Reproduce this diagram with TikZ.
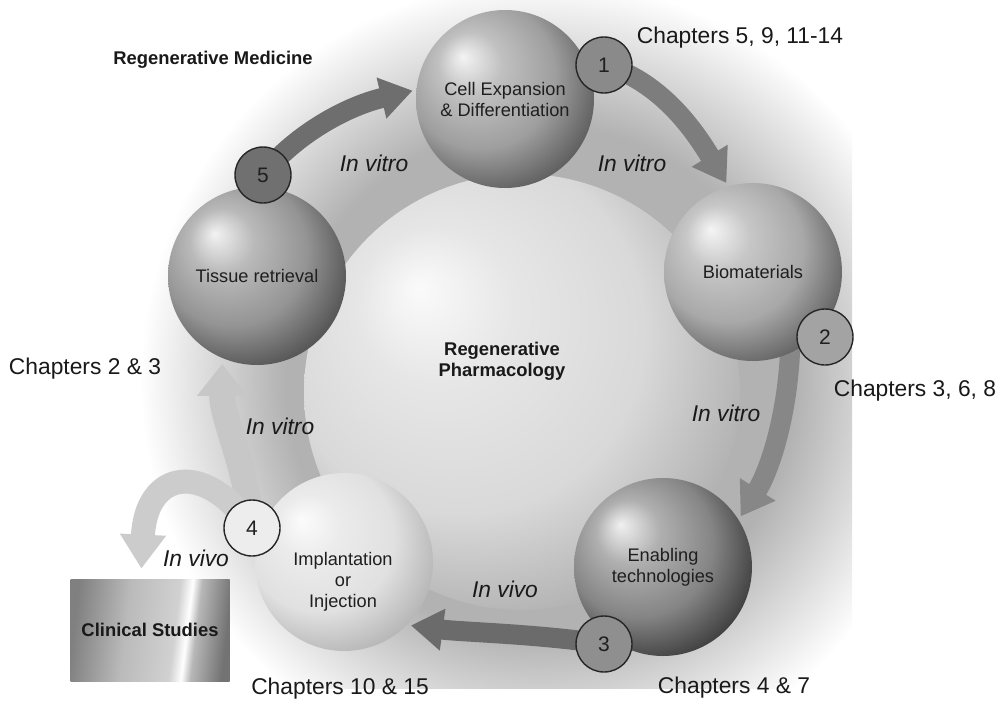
\documentclass[tikz,border=0pt]{standalone}
\usepackage{fontspec}
\setmainfont{Liberation Sans}
\usetikzlibrary{arrows.meta}

\pgfdeclarelayer{bg}
\pgfdeclarelayer{flowlayer}
\pgfsetlayers{bg,flowlayer,main}

\colorlet{ballbase}{gray}
\colorlet{ballrim}{black}
\pgfdeclareradialshading[ballbase,ballrim]{sphere}{\pgfpoint{-12bp}{12bp}}{%
  color(0bp)=(ballbase!12!white);
  color(9bp)=(ballbase!65!white);
  color(21bp)=(ballbase);
  color(31bp)=(ballrim);
  color(50bp)=(ballrim)}
\pgfdeclareradialshading{halo}{\pgfpointorigin}{%
  color(0bp)=(black!30);
  color(16bp)=(black!30);
  color(25bp)=(white);
  color(50bp)=(white)}
\pgfdeclarehorizontalshading{metal}{100bp}{%
  color(0bp)=(black!50);
  color(25bp)=(black!50);
  color(42bp)=(black!27);
  color(58bp)=(black!18);
  color(62bp)=(white);
  color(65bp)=(black!28);
  color(75bp)=(black!55);
  color(100bp)=(black!55)}

\begin{document}
\begin{tikzpicture}[x=0.5pt, y=-0.5pt,
    orb/.style 2 args={circle, inner sep=0pt, outer sep=0pt, minimum size=89pt, align=center,
        /utils/exec={\colorlet{ballbase}{#1}\colorlet{ballrim}{#2}}, shading=sphere,
        font=\fontsize{9.1}{10.5}\selectfont, text=black!88},
    num/.style={circle, draw=black!85, line width=0.7pt, fill=#1, minimum size=28pt, inner sep=0pt,
        font=\fontsize{10.5}{12}\selectfont, text=black!88},
    chap/.style={font=\fontsize{11.4}{13}\selectfont, text=black!90},
    flowtext/.style={font=\fontsize{11.4}{13}\selectfont\itshape, text=black!90},
    boldtext/.style={font=\fontsize{9.2}{10.5}\selectfont\bfseries, align=center, text=black!90},
    cyclearrow/.style={line width=10pt, draw=#1, -{Triangle[width=20pt, length=16pt]}, shorten >=2pt}
]
    \useasboundingbox (0,0) rectangle (1008,702);

    \begin{pgfonlayer}{bg}
        \begin{scope}
            \clip (0,0) rectangle (852,688);
            \shade[shading=halo] (540,380) circle [radius=200pt];
        \end{scope}
        \node[orb={black!15}{black!30}, minimum size=218pt] (pharm) at (522,392) {};
    \end{pgfonlayer}

    \node[orb={black!38}{black!62}] (cell) at (505,99) {Cell Expansion\\\& Differentiation};
    \node[orb={black!34}{black!60}] (bio) at (753,272) {Biomaterials};
    \node[orb={black!48}{black!74}] (enab) at (663,567) {Enabling\\technologies};
    \node[orb={black!12}{black!28}] (impl) at (344,562) {};
    \node[orb={black!42}{black!66}] (tiss) at (257,276) {Tissue retrieval};

    \node[font=\fontsize{9.1}{10.5}\selectfont, align=center, text=black!88] (impltext) at (343,582) {Implantation\\or\\Injection};
    \node[boldtext] (pharmtext) at (502,361) {Regenerative\\Pharmacology};
    \node[boldtext, shading=metal, shading angle=-7, minimum width=79.5pt, minimum height=51pt, inner sep=0pt] (clin) at (150,630) {Clinical Studies};

    \node[num=black!46] (n1) at (604,65) {1};
    \node[num=black!36] (n2) at (825,337) {2};
    \node[num=black!44] (n3) at (604,644) {3};
    \node[num=black!7] (n4) at (252,528) {4};
    \node[num=black!56] (n5) at (263,175) {5};

    \begin{pgfonlayer}{flowlayer}
        \draw[cyclearrow=black!57] (n5.center) .. controls (290,140) and (340,108) .. (cell.174);
        \draw[cyclearrow=black!51] (n1.center) .. controls (665,82) and (700,140) .. (bio.106);
        \draw[cyclearrow=black!47] ([yshift=10pt]bio.-65) .. controls (790,410) and (770,470) .. (enab.32);
        \draw[cyclearrow=black!58] (n3.center) .. controls (540,634) and (460,632) .. (impl.-45);
        \draw[cyclearrow=black!22, line width=13pt, -{Triangle[width=24pt, length=16pt]}, shorten >=3pt] (n4.center) .. controls (245,460) and (222,420) .. (tiss.247);
        \draw[cyclearrow=black!20, line width=12pt, -{Triangle[width=22pt, length=17pt]}, shorten >=5pt] (n4.center) .. controls (205,460) and (146,470) .. (clin.100);
    \end{pgfonlayer}

    \node[boldtext] (regmed) at (213,60) {Regenerative Medicine};
    \node[chap] (chap1) at (740,38) {Chapters 5, 9, 11-14};
    \node[chap] (chap2) at (915,391) {Chapters 3, 6, 8};
    \node[chap] (chap3) at (734,688) {Chapters 4 \& 7};
    \node[chap] (chap4) at (340,689) {Chapters 10 \& 15};
    \node[chap] (chap5) at (85,369) {Chapters 2 \& 3};

    \node[flowtext] (vitro51) at (374,163) {In vitro};
    \node[flowtext] (vitro12) at (632,163) {In vitro};
    \node[flowtext] (vitro23) at (726,413) {In vitro};
    \node[flowtext] (vitro45) at (280,426) {In vitro};
    \node[flowtext] (vivo34) at (505,589) {In vivo};
    \node[flowtext] (vivo4c) at (196,558) {In vivo};
\end{tikzpicture}
\end{document}
